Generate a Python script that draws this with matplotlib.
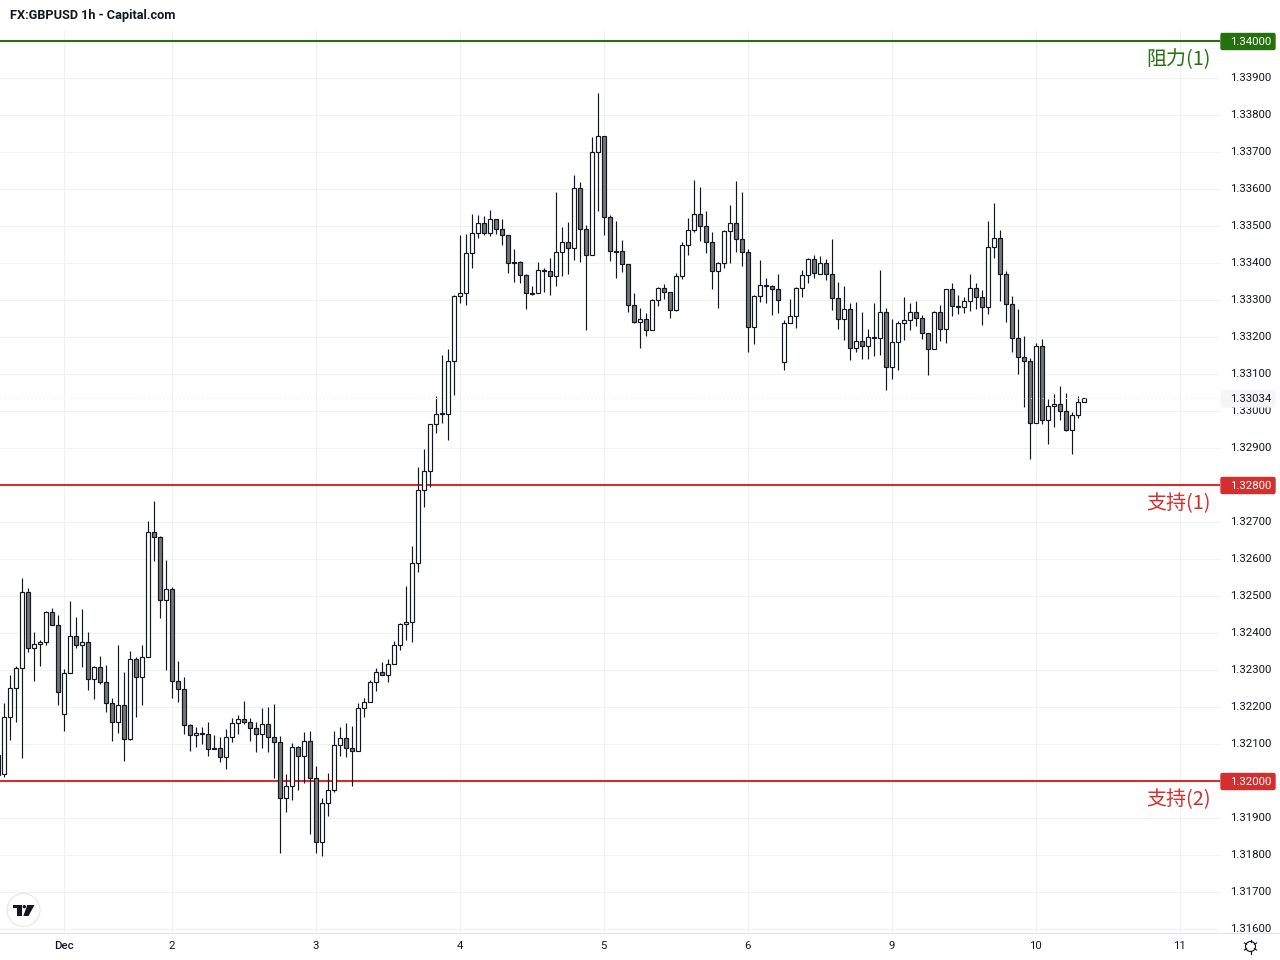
import numpy as np
import matplotlib
matplotlib.use("Agg")
import matplotlib.pyplot as plt
from matplotlib.patches import Circle, Polygon, FancyBboxPatch
from matplotlib.lines import Line2D
from matplotlib.transforms import Affine2D, Bbox

# Prices are stored as points (0.00001) above the base price
BASE_PRICE = 1.32000
opens_pts = [70,18,174,251,305,510,359,369,375,456,421,180,291,391,367,375,275,307,267,210,
 159,205,113,329,280,334,672,659,488,518,269,248,151,123,129,126,88,88,64,118,
 156,168,159,142,126,153,118,105,-47,-14,91,67,107,7,-166,-60,-25,96,115,88,
 80,196,213,267,294,286,315,367,424,429,588,786,837,964,994,991,1134,1310,1318,1426,
 1480,1507,1480,1518,1491,1475,1402,1402,1367,1316,1318,1380,1378,1364,1429,1456,1440,1602,1491,1421,
 1699,1742,1524,1432,1432,1396,1286,1240,1248,1218,1299,1332,1321,1272,1364,1448,1488,1532,1499,1456,
 1378,1399,1486,1507,1464,1429,1226,1310,1340,1337,1329,1132,1237,1256,1332,1367,1410,1369,1399,1369,
 1305,1248,1275,1169,1188,1175,1199,1196,1267,1118,1186,1237,1245,1267,1251,1210,1167,1267,1221,1329,
 1283,1280,1296,1332,1307,1280,1442,1467,1369,1288,1196,1145,1134,967,1175,975,1013,1018,999,948,
 988,1023]
highs_pts = [84,210,286,311,548,521,402,381,460,467,448,302,486,442,464,402,310,337,313,224,
 368,295,351,334,367,702,756,661,596,524,324,280,153,146,146,159,124,119,140,170,
 178,216,170,159,197,200,208,122,19,102,95,132,135,41,-46,22,135,146,157,149,
 211,224,272,305,322,329,378,426,527,635,849,897,964,1041,1151,1168,1313,1476,1478,1532,
 1529,1527,1542,1518,1518,1475,1438,1405,1369,1338,1402,1386,1414,1591,1496,1510,1638,1618,1502,1741,
 1859,1742,1529,1514,1462,1396,1318,1278,1264,1302,1334,1342,1321,1372,1456,1521,1623,1605,1540,1483,
 1402,1488,1556,1621,1591,1438,1313,1408,1359,1340,1369,1245,1302,1334,1380,1413,1421,1418,1410,1464,
 1348,1337,1291,1294,1267,1221,1291,1380,1278,1248,1242,1307,1292,1296,1259,1210,1269,1286,1329,1345,
 1313,1307,1369,1345,1326,1513,1561,1488,1378,1310,1275,1203,1142,1183,1194,1032,1045,1067,1048,996,
 1040,1034]
lows_pts = [14,12,111,160,63,349,271,312,368,421,205,136,291,360,309,246,222,263,186,109,
 130,55,110,173,205,334,595,441,300,224,214,128,82,92,100,68,86,51,32,105,
 127,154,108,78,89,78,8,-195,-84,-51,-24,-5,-143,-195,-203,-95,-30,68,65,-14,
 80,172,213,243,286,268,315,354,381,376,565,741,795,941,968,922,1043,1292,1286,1386,
 1468,1476,1473,1478,1449,1373,1349,1346,1276,1314,1318,1322,1314,1338,1365,1370,1408,1403,1219,1421,
 1541,1476,1405,1359,1376,1268,1238,1170,1203,1218,1284,1303,1251,1269,1356,1422,1485,1459,1427,1330,
 1278,1387,1400,1430,1392,1159,1181,1295,1292,1259,1265,1111,1237,1224,1308,1346,1359,1369,1354,1273,
 1222,1192,1138,1159,1141,1141,1149,1151,1057,1086,1111,1192,1219,1230,1195,1097,1167,1189,1184,1257,
 1262,1265,1270,1276,1232,1262,1414,1297,1241,1159,1100,1011,870,967,965,911,957,976,945,884,
 981,1023]
closes_pts = [16,174,251,305,510,359,369,375,456,421,240,291,391,367,375,275,307,267,210,159,
 205,113,329,280,334,672,659,488,518,269,248,151,123,129,126,86,86,64,118,156,
 168,159,142,126,153,118,105,-47,-14,91,67,107,7,-166,-60,-25,96,115,88,80,
 196,213,267,294,286,315,367,424,429,588,786,837,964,991,991,1134,1310,1318,1426,1480,
 1507,1480,1518,1491,1475,1399,1399,1367,1318,1318,1380,1378,1364,1429,1456,1440,1602,1491,1421,1699,
 1742,1524,1432,1431,1396,1286,1240,1248,1218,1299,1332,1321,1272,1364,1448,1488,1532,1499,1456,1378,
 1399,1486,1507,1464,1429,1226,1310,1340,1337,1329,1299,1237,1256,1332,1367,1410,1372,1399,1369,1305,
 1248,1275,1169,1188,1175,1199,1196,1267,1118,1186,1237,1245,1267,1251,1210,1167,1267,1221,1329,1283,
 1280,1296,1332,1307,1280,1442,1467,1369,1288,1196,1145,1134,967,1175,975,1013,1018,999,948,988,
 1023,1034]

first_bar = -1
day_labels = ["Dec", "2", "3", "4", "5", "6", "9", "10", "11"]
day_bars = [10, 28, 52, 76, 100, 124, 148, 172, 196]
price_ticks = [1.316 + 0.001 * k for k in range(25)]
tagged_levels = [1.34000, 1.32800, 1.32000]
level_colors = ["#26700f", "#d32f2f", "#d32f2f"]
level_labels = ["阻力(1)", "支持(1)", "支持(2)"]
last_price = 1.33034
title = "FX:GBPUSD 1h - Capital.com"

W, H = 1280, 960
INK = "#131722"
GRID = "#f0f1f3"
DOWN = "#757575"
TICK_FONT = ["Roboto", "DejaVu Sans"]
CJK_FONT = ["Noto Sans CJK SC", "DejaVu Sans"]

fig = plt.figure(figsize=(W / 100, H / 100), dpi=100, facecolor="white")
# pixel coordinates measured from the top-left corner of the picture
px = Affine2D().scale(1, -1).translate(0, H)

L, R, T, B = 0, 1220, 31, 932
ax = fig.add_axes([L / W, 1 - B / H, (R - L) / W, (B - T) / H])
for s in ax.spines.values():
    s.set_visible(False)

# 37 px per 0.001 with 1.34000 at y=41; 6 px per bar with bar 0 at x=4.3
ax.set_ylim(1.34 - (B - 41) / 37000, 1.34 + (41 - T) / 37000)
ax.set_xlim(-4.3 / 6, (R - 4.3) / 6)

o = BASE_PRICE + np.array(opens_pts) / 1e5
h = BASE_PRICE + np.array(highs_pts) / 1e5
l = BASE_PRICE + np.array(lows_pts) / 1e5
c = BASE_PRICE + np.array(closes_pts) / 1e5
xs = np.arange(first_bar, first_bar + len(o))

ax.set_xticks(day_bars, day_labels)
ax.set_yticks(price_ticks, ["" if any(abs(p - q) < 1e-6 for q in tagged_levels) else f"{p:.5f}" for p in price_ticks])
ax.yaxis.tick_right()
ax.grid(True, color=GRID, linewidth=0.75, zorder=0)
ax.set_axisbelow(True)
ax.tick_params(axis="both", length=0, labelcolor=INK, labelsize=8.2)
ax.tick_params(axis="y", pad=7)
ax.tick_params(axis="x", pad=6.5)
for t in ax.get_yticklabels():
    t.set_fontfamily(TICK_FONT)
    t.set_transform(t.get_transform() + Affine2D().translate(0, 0.7))
    t.set_clip_box(Bbox([[R, H - B], [W, H]]))
    t.set_clip_on(True)
for t, lab in zip(ax.get_xticklabels(), day_labels):
    t.set_fontfamily(TICK_FONT)
    t.set_transform(t.get_transform() + Affine2D().translate(-0.8, 0))
    if lab == "Dec":
        t.set_fontweight("medium")

# level lines, below the candles
for lev, col in zip(tagged_levels, level_colors):
    ax.axhline(lev, color=col, linewidth=1.5, zorder=2)

# candles
up = c > o
body_bot = np.minimum(o, c)
body_h = np.abs(c - o)
ax.vlines(xs, l, h, color=INK, linewidth=0.85, zorder=3)
ax.bar(xs, body_h, bottom=body_bot, width=0.66,
       color=np.where(up, "white", DOWN).tolist(), edgecolor=INK, linewidth=0.85, zorder=4)

ax.axhline(last_price, color="#eeeeee", linewidth=0.7, linestyle=(0, (1, 3)), zorder=5)

fig.canvas.draw()
def price_y(p):
    return H - ax.transData.transform((0, p))[1]

# axis separator below the pane
fig.add_artist(Line2D([0, 1219], [932.5, 932.5], color="#e0e3eb", lw=0.9, transform=px))
fig.add_artist(Line2D([1221, W], [932.5, 932.5], color="#e0e3eb", lw=0.9, transform=px))

# price tags
def tag(p, bg, fg):
    y = price_y(p)
    fig.add_artist(FancyBboxPatch((1221, y - 7.5), 54, 16, boxstyle="round,pad=0,rounding_size=1.5",
                                  facecolor=bg, edgecolor=bg, linewidth=1, transform=px, zorder=3))
    fig.text(1250.5 / W, 1 - (y + 1.0) / H, f"{p:.5f}", color=fg, ha="center", va="center",
             fontsize=8.2, family=TICK_FONT, zorder=4)

tag(last_price, "#f5f5f5", INK)
for lev, col, lab in zip(tagged_levels, level_colors, level_labels):
    tag(lev, col, "white")
    fig.text(1210.5 / W, 1 - (price_y(lev) + 18.5) / H, lab, color=col, ha="right", va="center",
             fontsize=14.4, family=CJK_FONT, zorder=4)

# title
fig.text(10 / W, 1 - 16 / H, title, color=INK, ha="left", va="center", fontsize=9.2,
         fontweight="bold", family=TICK_FONT)

# TradingView badge
fig.add_artist(Circle((23.5, 910), 16.5, facecolor="white", edgecolor="#e6e6e6", lw=0.8, transform=px, zorder=3))
fig.add_artist(Polygon([(13, 905), (22, 905), (22, 916), (17, 916), (17, 908), (13, 908)],
                       closed=True, facecolor=INK, edgecolor="none", transform=px, zorder=4))
fig.add_artist(Circle((24.3, 906.7), 1.7, facecolor=INK, edgecolor="none", transform=px, zorder=4))
fig.add_artist(Polygon([(27.3, 905), (34.5, 905), (28.5, 916), (23.3, 916)],
                       closed=True, facecolor=INK, edgecolor="none", transform=px, zorder=4))

# settings gear
fig.add_artist(Circle((1250.5, 946.5), 5, facecolor="white", edgecolor=INK, lw=0.85, transform=px, zorder=3))
for a in np.deg2rad(np.arange(0, 360, 60) + 30):
    fig.add_artist(Line2D([1250.5 + 4.5 * np.cos(a), 1250.5 + 7 * np.cos(a)],
                          [946.5 + 4.5 * np.sin(a), 946.5 + 7 * np.sin(a)],
                          color=INK, lw=0.85, transform=px, zorder=3))

fig.savefig("out.png", dpi=100, facecolor="white")
